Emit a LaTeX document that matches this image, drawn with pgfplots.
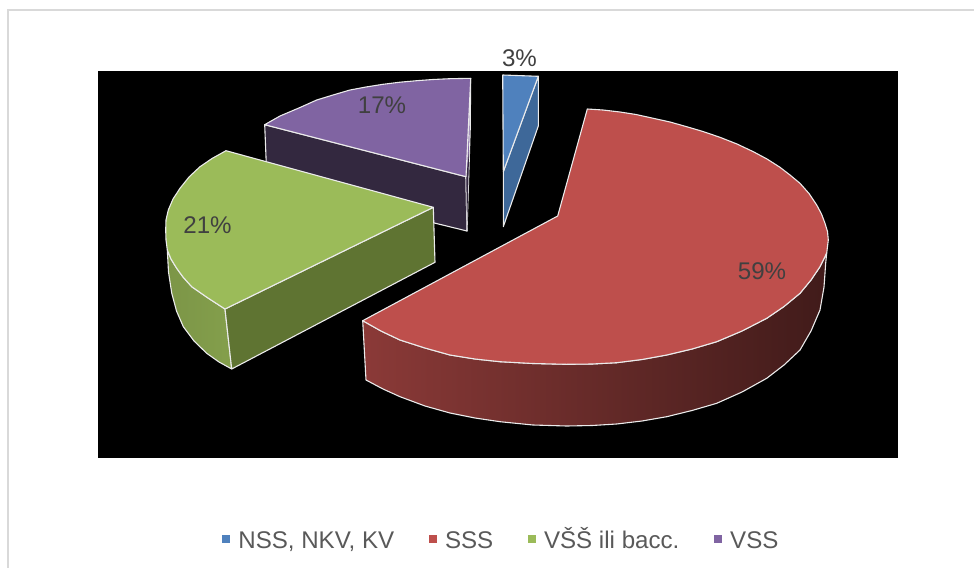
\documentclass[border=0pt]{standalone}
\usepackage{pgfplots}
\usepackage{fontspec}
\setmainfont{Liberation Sans}
\pgfplotsset{compat=1.18}
\definecolor{blueT}{HTML}{4F81BD}
\definecolor{blueS}{HTML}{3E6899}
\definecolor{redT}{HTML}{BE4F4C}
\definecolor{greenT}{HTML}{9BBB59}
\definecolor{greenS}{HTML}{5F7432}
\definecolor{purpleT}{HTML}{8064A2}
\definecolor{purpleS}{HTML}{33283F}
\definecolor{lab}{HTML}{404040}
\definecolor{leg}{HTML}{595959}
\definecolor{frame}{HTML}{D9D9D9}
\newcommand{\bigf}{\fontsize{24.2}{29}\selectfont}
\newcommand{\lst}{\rule[-6bp]{0pt}{27bp}}
\begin{document}
\begin{tikzpicture}
\begin{axis}[
  scale only axis, width=974bp, height=568bp,
  xmin=0, xmax=974, ymin=0, ymax=568, y dir=reverse,
  hide axis, clip=true,
  legend style={at={(axis cs:501.5,538.7)},anchor=center,draw=none,fill=none,
    font=\bigf, text=leg,
    /tikz/every odd column/.append style={column sep=7bp},
    /tikz/every even column/.append style={column sep=33bp}},
  legend columns=4,
  legend cell align=left,
  edge/.style={draw=white!92!black,line width=1.1pt,line join=round},
]
% page and frame
\addplot[fill=white,draw=none,forget plot] coordinates {(0,0)(974,0)(974,568)(0,568)} -- cycle;
\addplot[draw=frame,line width=2bp,forget plot] coordinates {(8,568)(8,10)(974,10)};
% black plot area
\addplot[fill=black,draw=none,forget plot] coordinates {(98,71)(898,71)(898,458)(98,458)} -- cycle;
% VSS
\addplot[fill=purpleS,edge,forget plot] coordinates {(264.7,124.7)(466,176.7)(467,231)(267,182)} -- cycle;
\addplot[fill=purpleT,edge,forget plot] coordinates {(466,176.7)(470.7,78.3)(470.2,130)(467,231)} -- cycle;
\addplot[fill=purpleS,draw=none,forget plot] coordinates {(466.3,177)(469.2,150)(467,230)} -- cycle;
\addplot[fill=purpleT,edge,forget plot] coordinates {(264.7,124.7)(280,116)(300,107.5)(316.7,100)(333,95)(350,90)(366,87)(383,84.3)(400,82.2)(416.7,80.7)(433,79.5)(450,78.7)(470.7,78.3)(466,176.7)} -- cycle;
% VSS ili bacc.
\addplot[left color=greenT!80!black,right color=greenT!85!black,edge,forget plot] coordinates {(167.3,250)(168.5,272)(171.7,293)(176.5,311)(183.3,326.7)(194,341)(206.7,353.3)(219,362)(231.7,369)(225,309)(208,298)(191.7,286.7)(183,277)(176.7,268.3)(171,259)} -- cycle;
\addplot[fill=greenS,edge,forget plot] coordinates {(225,309)(433.3,207.3)(435,262.3)(231.7,369)} -- cycle;
\addplot[fill=greenT,edge,forget plot] coordinates {(226,150.7)(212,158.5)(200,166.7)(189,177)(180,188.3)(173,199)(168.3,210)(166,220)(165.7,230)(166,240)(167.3,250)(171,259)(176.7,268.3)(183,277)(191.7,286.7)(208,298)(225,309)(433.3,207.3)} -- cycle;
% NSS
\addplot[fill=blueS,edge,forget plot] coordinates {(538.3,76.3)(538.3,126)(503.3,226.7)(503.3,171.7)} -- cycle;
\addplot[fill=blueT,edge,forget plot] coordinates {(502.7,75)(538.3,76.3)(503.3,171.7)} -- cycle;
% SSS
\addplot[left color=redT!73!black,middle color=redT!50!black,right color=redT!34!black,edge,forget plot] coordinates {(362.7,320.7)(366,380)(383,389)(400,396.7)(425,406)(450,413)(475,418)(500,421.7)(533,425)(566.7,426)(592,425.5)(616.7,424)(642,421)(666.7,416.7)(692,410.5)(716.7,403.3)(742,392)(766.7,378.3)(784,365)(800,350)(811,331)(820,310)(824,287)(825.7,263)(826.7,253)(820,266.7)(811,280)(800,293.3)(784,306.5)(766.7,318.3)(742,331)(716.7,341.7)(692,349)(666.7,355)(642,359.5)(616.7,362.7)(592,364)(566.7,364.3)(533,363.5)(500,361.7)(475,359)(450,355)(425,348)(400,340)(381,331)} -- cycle;
\addplot[fill=redT,edge,forget plot] coordinates {(587.3,109)(603,110)(620,112)(636,114.5)(653.3,118.3)(670,122)(686.7,126.7)(703,131.5)(720,137.3)(737,144)(753.3,151.7)(767,159)(780,167.3)(790,175)(800,183.3)(809,193.5)(816.7,205)(821.5,214)(825,223.3)(827.5,231.5)(828.3,240)(826.7,253)(820,266.7)(811,280)(800,293.3)(784,306.5)(766.7,318.3)(742,331)(716.7,341.7)(692,349)(666.7,355)(642,359.5)(616.7,362.7)(592,364)(566.7,364.3)(533,363.5)(500,361.7)(475,359)(450,355)(425,348)(400,340)(381,331)(362.7,320.7)(557.7,216)} -- cycle;
% data labels
\node[text=lab,font=\bigf] at (axis cs:519.5,58) {3\%};
\node[text=lab,font=\bigf] at (axis cs:382,105.5) {17\%};
\node[text=lab,font=\bigf] at (axis cs:207.5,225.5) {21\%};
\node[text=lab,font=\bigf] at (axis cs:762,271.5) {59\%};
% legend
\addlegendimage{only marks,mark=square*,mark size=3.4bp,color=blueT}
\addlegendentry{\lst NSS, NKV, KV}
\addlegendimage{only marks,mark=square*,mark size=3.4bp,color=redT}
\addlegendentry{\lst SSS}
\addlegendimage{only marks,mark=square*,mark size=3.4bp,color=greenT}
\addlegendentry{\lst VŠŠ ili bacc.}
\addlegendimage{only marks,mark=square*,mark size=3.4bp,color=purpleT}
\addlegendentry{\lst VSS}
\end{axis}
\end{tikzpicture}
\end{document}
